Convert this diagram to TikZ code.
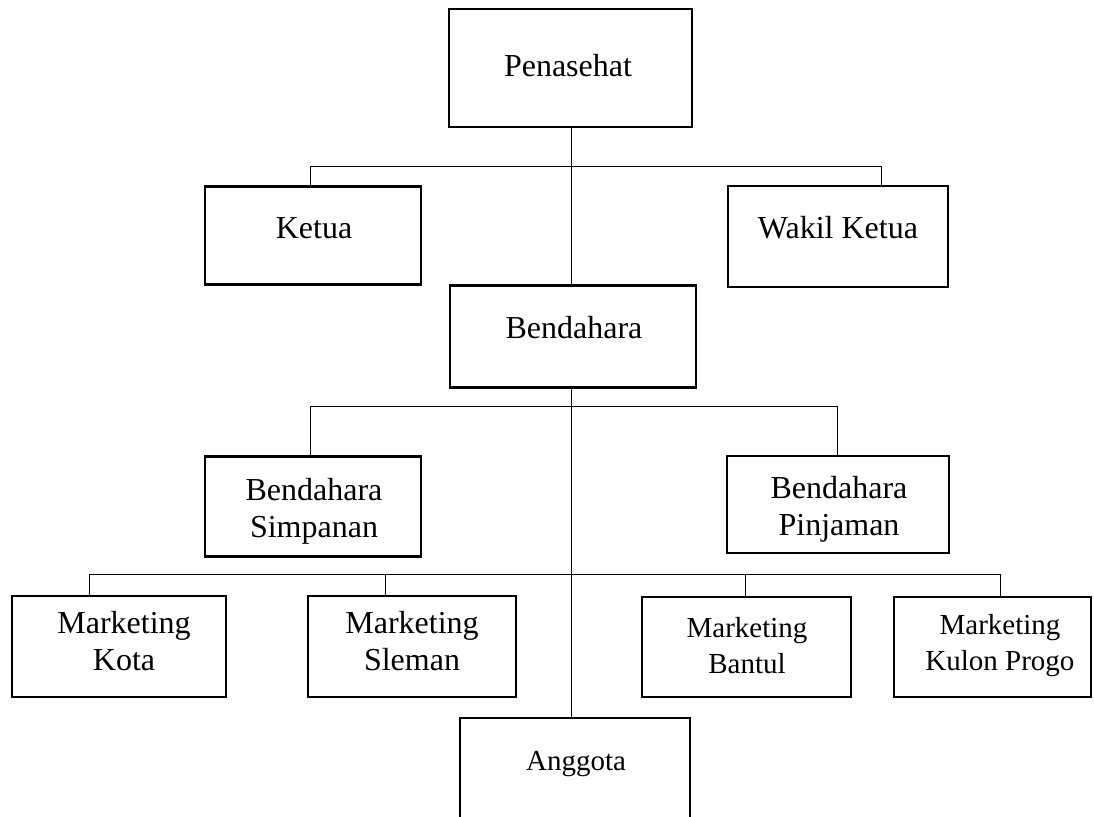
\documentclass[tikz,border=0pt]{standalone}
\usepackage{fontspec}
\setmainfont{Liberation Serif}
\begin{document}
\begin{tikzpicture}[x=1pt,y=-1pt,
  box/.style={draw,line width=2.8pt,rectangle,inner sep=0pt},
  big/.style={font=\fontsize{32}{37}\selectfont,align=center,inner sep=0pt},
  small/.style={font=\fontsize{29}{36}\selectfont,align=center,inner sep=0pt},
  conn/.style={line width=1pt}]
\useasboundingbox (0,0) rectangle (1094,816);
\begin{scope}
\clip (0,0) rectangle (1094,816);
% boxes
\node[box,minimum width=243pt,minimum height=118pt] (pen) at (570.5,68) {};
\node[box,minimum width=216pt,minimum height=98pt] (ket) at (313,235.5) {};
\node[box,minimum width=220pt,minimum height=101pt] (wak) at (838,236.5) {};
\node[box,minimum width=246pt,minimum height=102pt] (ben) at (573,336.5) {};
\node[box,minimum width=216pt,minimum height=100pt] (sim) at (313,506.5) {};
\node[box,minimum width=222pt,minimum height=97pt] (pin) at (838,504.5) {};
\node[box,minimum width=214pt,minimum height=101pt] (kot) at (119,646.5) {};
\node[box,minimum width=208pt,minimum height=101pt] (sle) at (412,646.5) {};
\node[box,minimum width=209pt,minimum height=100pt] (ban) at (746.5,647) {};
\node[box,minimum width=197pt,minimum height=100pt] (kul) at (992.5,647) {};
\node[box,minimum width=230pt,minimum height=110pt] (ang) at (575,773) {};
% texts
\node[big] (tpen) at (568,66) {Penasehat};
\node[big] (tket) at (314,228) {Ketua};
\node[big] (twak) at (838,228) {Wakil Ketua};
\node[big] (tben) at (574,328) {Bendahara};
\node[big] (tsim) at (314,511) {Bendahara\\Simpanan};
\node[big] (tpin) at (839,509) {Bendahara\\Pinjaman};
\node[big] (tkot) at (124,641) {Marketing\\Kota};
\node[big] (tsle) at (412,641) {Marketing\\Sleman};
\node[small] (tban) at (747,646) {Marketing\\Bantul};
\node[small] (tkul) at (1000,646) {Marketing\\Kulon Progo};
\node[small] (tang) at (576,764) {Anggota};
% junction coordinates
\coordinate (a1) at (310,166);
\coordinate (a2) at (881,166);
\coordinate (b1) at (310,406);
\coordinate (b2) at (837,406);
\coordinate (c1) at (89,574);
\coordinate (c2) at (385,574);
\coordinate (c3) at (745,574);
\coordinate (c4) at (1000,574);
\coordinate (m1) at (571,126);
% connectors
\draw[conn] (pen.south -| m1) -- (ben.north -| m1);
\draw[conn] (ben.south -| m1) -- (ang.north -| m1);
\draw[conn] (ket.north -| a1) -- (a1) -- (a2) -- (wak.north -| a2);
\draw[conn] (sim.north -| b1) -- (b1) -- (b2) -- (pin.north -| b2);
\draw[conn] (kot.north -| c1) -- (c1) -- (c4) -- (kul.north -| c4);
\draw[conn] (c2) -- (sle.north -| c2);
\draw[conn] (c3) -- (ban.north -| c3);
\end{scope}
\end{tikzpicture}
\end{document}
